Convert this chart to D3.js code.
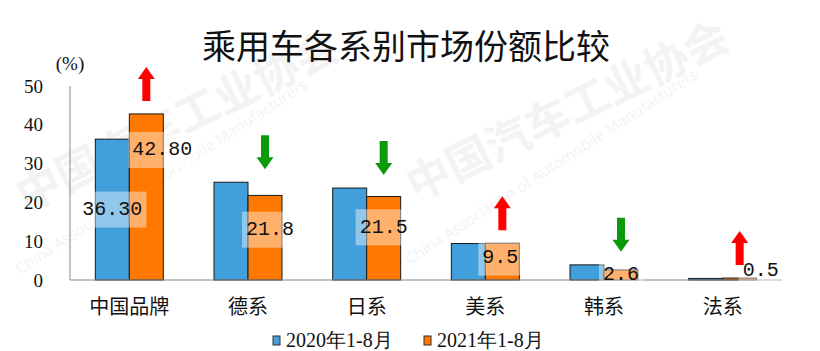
<!DOCTYPE html>
<html>
<head>
<meta charset="utf-8">
<script src="https://cdn.jsdelivr.net/npm/d3@7"></script>
<style>
  html, body { margin: 0; padding: 0; background: #fff; }
  svg { display: block; }
</style>
</head>
<body>
<svg id="chart"></svg>
<script>
// data
const categories = ["中国品牌", "德系", "日系", "美系", "韩系", "法系"];
const seriesNames = ["2020年1-8月", "2021年1-8月"];
const values2020 = [36.3, 25.2, 23.7, 9.4, 3.9, 0.4];
const values2021 = [42.8, 21.8, 21.5, 9.5, 2.6, 0.5];
const labels2020 = ["36.30", null, null, null, null, null];
const labels2021 = ["42.80", "21.8", "21.5", "9.5", "2.6", "0.5"];
const yTicks = [0, 10, 20, 30, 40, 50];

// hand nudges for the data labels (they were moved by hand in the original)
const labelNudge2020 = [[0, 0], [0, 0], [0, 0], [0, 0], [0, 0], [0, 0]];
const labelNudge2021 = [[16, -47], [5, -8], [0, -11], [-2, -4], [0, 0], [21, -9]];

const W = 820, H = 351;
const margin = {top: 86, right: 38, bottom: 71, left: 70};
const colors = ["#419fdc", "#ff7800"];
const cjk = "'Noto Sans CJK SC', 'Noto Sans', sans-serif";
const serif = "'Liberation Serif', 'DejaVu Serif', serif";
const mono = "'Liberation Mono', 'DejaVu Sans Mono', monospace";

const svg = d3.select("#chart").attr("width", W).attr("height", H);

// faint watermark
const wm = svg.append("g").attr("fill", "#f3f3f3");
[[0, 0], [390, -10]].forEach(([dx, dy]) => {
    wm.append("text")
        .attr("transform", `translate(${26 + dx}, ${212 + dy}) rotate(-26)`)
        .attr("font-family", cjk)
        .attr("font-weight", "bold")
        .attr("font-size", 44)
        .text("中国汽车工业协会");
    wm.append("text")
        .attr("transform", `translate(${20 + dx}, ${275 + dy}) rotate(-33)`)
        .attr("font-family", "'Open Sans', sans-serif")
        .attr("font-size", 15.5)
        .text("China Association of Automobile Manufacturers");
});

const x0 = d3.scaleBand()
    .domain(categories)
    .range([margin.left, W - margin.right])
    .paddingInner(0.427)
    .paddingOuter(0.2135);

const x1 = d3.scaleBand()
    .domain([0, 1])
    .range([0, x0.bandwidth()]);

const y = d3.scaleLinear()
    .domain([0, 50])
    .range([H - margin.bottom, margin.top]);

// title
svg.append("text")
    .attr("x", 406)
    .attr("y", 44)
    .attr("text-anchor", "middle")
    .attr("dominant-baseline", "central")
    .attr("font-family", cjk)
    .attr("font-size", 34)
    .attr("fill", "#111")
    .text("乘用车各系别市场份额比较");

// unit
svg.append("text")
    .attr("x", 70)
    .attr("y", 63)
    .attr("text-anchor", "middle")
    .attr("dominant-baseline", "central")
    .attr("font-family", serif)
    .attr("font-size", 19)
    .attr("fill", "#111")
    .text("(%)");

// y axis: line plus labels, no ticks
const yAxis = d3.axisLeft(y).tickValues(yTicks).tickSize(0).tickPadding(27);
const yG = svg.append("g")
    .attr("transform", `translate(${margin.left}, 0)`)
    .call(yAxis);
yG.select(".domain").attr("stroke", "#888").attr("d", `M0,${y(0)}V${y(50)}`);
yG.selectAll("text")
    .attr("font-family", serif)
    .attr("font-size", 19)
    .attr("fill", "#111");

// bars
const allValues = [values2020, values2021];
const bars = svg.append("g");
allValues.forEach((vals, s) => {
    bars.selectAll(null)
        .data(categories)
        .enter()
        .append("rect")
        .attr("x", (d) => x0(d) + x1(s))
        .attr("y", (d, i) => y(vals[i]))
        .attr("width", x1.bandwidth())
        .attr("height", (d, i) => y(0) - y(vals[i]))
        .attr("fill", colors[s])
        .attr("stroke", "#1a1a1a")
        .attr("stroke-width", 1);
});

// x axis line and category labels
const xAxis = d3.axisBottom(x0).tickSize(0).tickPadding(24);
const xG = svg.append("g")
    .attr("transform", `translate(0, ${y(0)})`)
    .call(xAxis);
xG.select(".domain").attr("stroke", "#888").attr("d", `M${margin.left},0H${W - margin.right}`);
xG.selectAll("text")
    .attr("font-family", cjk)
    .attr("font-size", 20)
    .attr("fill", "#111")
    .attr("dy", "0.5em");

// data labels with translucent white boxes
const labelG = svg.append("g");
[[labels2020, labelNudge2020], [labels2021, labelNudge2021]].forEach(([labs, nudge], s) => {
    labs.forEach((lab, i) => {
        if (lab === null) return;
        const cx = x0(categories[i]) + x1(s) + x1.bandwidth() / 2 + nudge[i][0];
        const cy = y(allValues[s][i] / 2) + nudge[i][1];
        const g = labelG.append("g");
        const box = g.append("rect");
        const t = g.append("text")
            .attr("x", cx)
            .attr("y", cy)
            .attr("text-anchor", "middle")
            .attr("dominant-baseline", "central")
            .attr("font-family", mono)
            .attr("font-size", 20)
            .attr("fill", "#111")
            .text(lab);
        const bb = t.node().getBBox();
        box.attr("x", bb.x - 4)
            .attr("y", cy - 18)
            .attr("width", bb.width + 8)
            .attr("height", 36)
            .attr("fill", "#fff")
            .attr("fill-opacity", 0.42);
    });
});

// change arrows above each pair
const arrowG = svg.append("g");
categories.forEach((c, i) => {
    const up = values2021[i] > values2020[i];
    const ax = x0(c) + x1(1) + x1.bandwidth() / 2;
    const bottom = y(Math.max(values2020[i], values2021[i])) - 13;
    const top = bottom - 34;
    const sw = 4, hw = 8.5, hh = 12;
    let pts;
    if (up) {
        pts = [[ax - sw, bottom], [ax - sw, top + hh], [ax - hw, top + hh], [ax, top],
               [ax + hw, top + hh], [ax + sw, top + hh], [ax + sw, bottom]];
    } else {
        pts = [[ax - sw, top], [ax - sw, bottom - hh], [ax - hw, bottom - hh], [ax, bottom],
               [ax + hw, bottom - hh], [ax + sw, bottom - hh], [ax + sw, top]];
    }
    arrowG.append("path")
        .attr("d", d3.line()(pts) + "Z")
        .attr("fill", up ? "#ff0000" : "#0a9a0a");
});

// legend
const legendX = [273, 424];
const legend = svg.append("g");
seriesNames.forEach((name, s) => {
    legend.append("rect")
        .attr("x", legendX[s])
        .attr("y", 336)
        .attr("width", 7)
        .attr("height", 9)
        .attr("fill", colors[s])
        .attr("stroke", "#333")
        .attr("stroke-width", 1);
    legend.append("text")
        .attr("x", legendX[s] + 13)
        .attr("y", 347)
        .attr("font-family", serif)
        .attr("font-size", 20)
        .attr("fill", "#111")
        .text(name);
});
</script>
</body>
</html>
